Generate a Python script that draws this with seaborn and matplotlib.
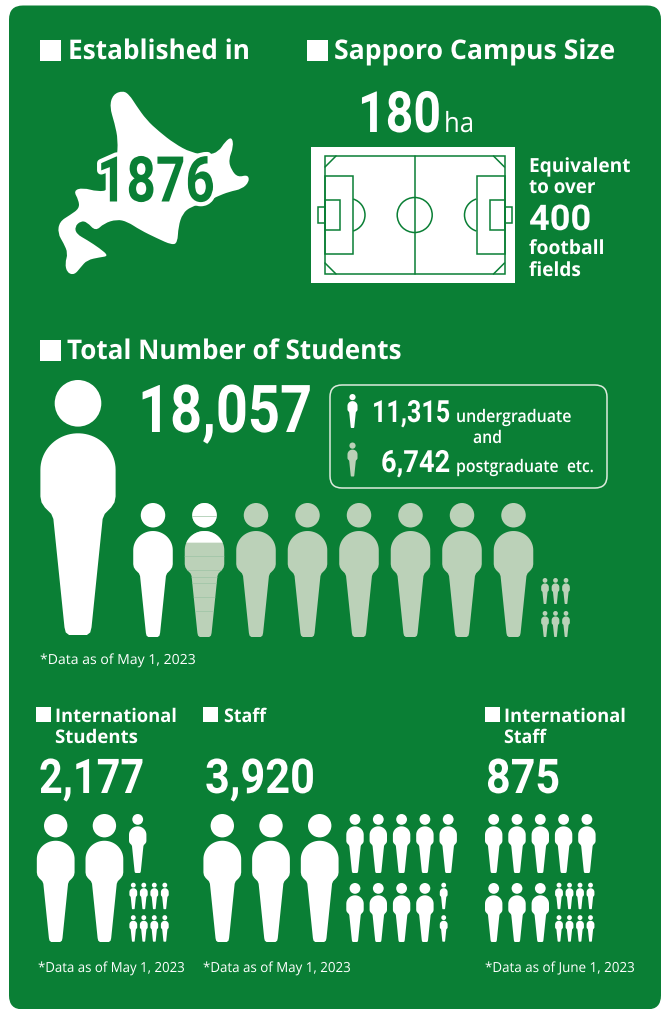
import numpy as np
import pandas as pd
import matplotlib
matplotlib.use("Agg")
import matplotlib.pyplot as plt
import matplotlib.patheffects as pe
from matplotlib.patches import FancyBboxPatch, Rectangle, Circle, Arc, PathPatch
from matplotlib.path import Path
from matplotlib.transforms import Affine2D
import seaborn as sns

# values shown on the chart
total_students = 18057
undergraduates = 11315
postgraduates = 6742
intl_students = 2177
staff = 3920
intl_staff = 875
established = 1876
campus_ha = 180
fields_equiv = 400
data_dates = ["May 1, 2023", "May 1, 2023", "May 1, 2023", "June 1, 2023"]

GREEN = "#0A7F35"
PALE = "#BBD1B8"
WHITE = "#FFFFFF"
HEAD = "Open Sans"
NUM = "Roboto"

sns.set_theme(style="white")


def person(clip=None):
    # unit-height pictogram centred on 0,0
    head = Path.circle((0, 0.5 - 0.0914), 0.0914)
    t = np.linspace(0, np.pi, 40)
    arc_x = 0.1475 * np.cos(t)
    arc_y = 0.148 + 0.143 * np.sin(t)
    right = [(0.1475, 0.043), (0.143, 0.02), (0.13, 0.0), (0.105, -0.025), (0.0966, -0.045),
             (0.053, -0.47), (0.048, -0.49), (0.035, -0.5)]
    right = np.array(right)
    left = right[::-1] * [-1, 1]
    body = np.vstack([right[::-1], np.c_[arc_x, arc_y], left[::-1]])
    if clip is not None:
        body = body[body[:, 1] >= 0.5 - clip]
    body = np.vstack([body, body[:1]])
    return Path.make_compound_path(head, Path(body, closed=True))


def grid(n, x0, dx, top, dy, cols, h):
    # icon centres, filled row by row
    col = np.arange(n) % cols
    row = np.arange(n) // cols
    return pd.DataFrame({"x": x0 + col * dx, "y": top + row * dy + h / 2, "h": h})


def digits(value):
    # one icon per thousand, hundred and ten, rounded to the nearest ten
    v = int(round(value, -1))
    return v // 1000, v // 100 % 10, v // 10 % 10


class Squeeze(pe.AbstractPathEffect):
    # squeezes glyphs sideways about one point, the fonts here are wider than the original
    def __init__(self, sx, xa, inner=None):
        super().__init__()
        self.sx, self.xa, self.inner = sx, xa, inner

    def draw_path(self, renderer, gc, tpath, affine, rgbFace=None):
        a = affine + Affine2D().translate(-self.xa, 0).scale(self.sx, 1).translate(self.xa, 0)
        if self.inner:
            for e in self.inner:
                e.draw_path(renderer, gc, tpath, a, rgbFace)
        else:
            renderer.draw_path(gc, tpath, a, rgbFace)


fig = plt.figure(figsize=(6.64, 10.09), dpi=100, facecolor="white")
ax = fig.add_axes([0, 0, 1, 1])
ax.set_xlim(0, 664)
ax.set_ylim(1009, 0)
ax.axis("off")
rend = fig.canvas.get_renderer()

ax.add_patch(FancyBboxPatch((9, 5.5), 652, 1004, boxstyle="round,pad=0,rounding_size=14", fc=GREEN, ec="none"))

# Hokkaido outline
hk = np.array([(290, 272), (305, 285), (320, 315), (345, 360), (375, 395), (410, 430), (450, 458), (490, 465),
               (515, 455), (530, 425), (546, 410), (550, 440), (538, 480), (545, 510), (560, 532), (584, 524),
               (587, 545), (570, 567), (540, 575), (510, 590), (480, 610), (450, 620), (430, 640), (420, 680),
               (418, 728), (405, 735), (370, 715), (330, 690), (300, 665), (275, 658), (245, 670), (225, 694),
               (205, 666), (190, 663), (176, 680), (180, 702), (205, 720), (235, 745), (256, 768), (235, 772),
               (205, 780), (190, 802), (175, 825), (158, 818), (153, 790), (160, 760), (150, 730), (136, 700),
               (140, 665), (165, 645), (187, 625), (185, 600), (173, 572), (195, 563), (230, 575), (258, 570),
               (275, 480), (278, 420), (270, 370), (258, 320), (266, 283)], dtype=float) / [2.355, 3]
mids = (hk + np.roll(hk, -1, axis=0)) / 2
verts = [mids[-1]]
codes = [Path.MOVETO]
for c, m in zip(hk, mids):
    verts += [c, m]
    codes += [Path.CURVE3, Path.CURVE3]
ax.add_patch(PathPatch(Path(np.array(verts), codes), fc=WHITE, ec="none"))

# football pitch
ax.add_patch(Rectangle((311, 147), 204, 136, fc=WHITE, ec="none"))
line = dict(fc="none", ec=GREEN, lw=1.1)
for x, y, w, h in [(325, 156, 179.5, 118), (325, 176, 28, 78), (476.5, 176, 28, 78), (325, 200, 15, 30),
                   (489.5, 200, 15, 30), (317.5, 207, 7.5, 16), (504.5, 207, 7.5, 16)]:
    ax.add_patch(Rectangle((x, y), w, h, **line))
ax.plot([414.7, 414.7], [156, 274], color=GREEN, lw=1.1)
ax.add_patch(Circle((414.7, 215), 17.5, **line))
ax.add_patch(Arc((348.3, 215), 33.4, 33.4, theta1=-73, theta2=73, ec=GREEN, lw=1.1))
ax.add_patch(Arc((481.2, 215), 33.4, 33.4, theta1=107, theta2=253, ec=GREEN, lw=1.1))
for cx, sx in [(325, 1), (504.5, -1)]:
    for cy, sy in [(156, 1), (274, -1)]:
        ax.plot([cx + sx * 11, cx], [cy, cy + sy * 11], color=GREEN, lw=1.1)


def label(x0, x1, y, s, size, weight="bold", family=HEAD, color=WHITE, inner=None, ha="left"):
    # text fitted to run from x0 to x1 in picture pixels
    xa = x0 if ha == "left" else x1
    t = ax.text(xa, y, s, fontsize=size, fontweight=weight, family=family, color=color, ha=ha, va="baseline")
    w = t.get_window_extent(rend).width
    t.set_path_effects([Squeeze((x1 - x0) / w, xa, inner)])
    return t


def square(x, y, s):
    ax.add_patch(Rectangle((x, y), s, s, fc=WHITE, ec="none"))


square(40, 39.5, 21)
square(307, 39.5, 21)
square(40, 339.5, 21)
square(36, 707, 15)
square(203, 707, 15)
square(485, 707, 15)

label(68, 250, 59, "Established in", 19.5)
label(334, 616, 59, "Sapporo Campus Size", 19.5)
label(67, 402, 359, "Total Number of Students", 19.5)
label(55, 177, 722, "International", 13.5)
label(55, 138, 743, "Students", 13.5)
label(224, 266, 722, "Staff", 13.5)
label(504, 626, 722, "International", 13.5)
label(504, 546, 743, "Staff", 13.5)

label(97, 215, 201.5, str(established), 45.5, family=NUM, color=GREEN,
      inner=[pe.Stroke(linewidth=6, foreground=WHITE), pe.Normal()])

label(358, 441, 132, str(campus_ha), 41, family=NUM, ha="right")
label(444, 474, 132, "ha", 20, weight="normal")
label(529, 631, 172, "Equivalent", 14)
label(529, 596, 193, "to over", 14)
label(529, 591, 230, str(fields_equiv), 25.5, family=NUM)
label(529, 605, 254, "football", 14)
label(529, 581, 276, "fields", 14)

label(138, 312, 432, f"{total_students:,}", 47.5, family=NUM)
label(372, 450, 422, f"{undergraduates:,}", 22, family=NUM)
label(456, 572, 422, "undergraduate", 12.5, weight=600)
label(473, 502, 443, "and", 12.5, weight=600)
label(381, 450, 472, f"{postgraduates:,}", 22, family=NUM)
label(456, 559, 472, "postgraduate", 12.5, weight=600)
label(567, 594, 472, "etc.", 12.5, weight=600)
ax.add_patch(FancyBboxPatch((330, 385), 277, 103, boxstyle="round,pad=0,rounding_size=12", fc="none", ec="#DDEBDD", lw=1.1))

label(39, 144, 793, f"{intl_students:,}", 34.5, family=NUM)
label(205, 315, 793, f"{staff:,}", 34.5, family=NUM)
label(486, 560, 793, f"{intl_staff:,}", 34.5, family=NUM)

for x0, x1, y, d in zip([40, 38, 203, 485], [196, 185, 351, 635], [664, 972, 972, 972], data_dates):
    label(x0, x1, y, "*Data as of " + d, 10, weight="normal")

# pictograms: white icons are undergraduates, pale ones the rest
th_s, hu_s, te_s = digits(total_students)
white_mid = (undergraduates - 10000) // 1000
partial = round((undergraduates % 1000) / 1000, 1)
stud_mid = grid(th_s % 10, 153, 51.5, 503, 0, 8, 134)
stud_big = grid(total_students // 10000, 78, 0, 380, 0, 1, 255)
stud_tiny = grid(te_s, 545, 10.5, 578, 33, 3, 26)

sets = [stud_big, stud_mid.iloc[:white_mid], stud_mid.iloc[white_mid:], stud_tiny]
kinds = ["white", "white", "pale", "pale"]

th, hu, te = digits(intl_students)
sets += [grid(th, 55.7, 48.7, 814, 0, 8, 128), grid(hu, 137.7, 0, 814, 0, 1, 59), grid(te, 133.3, 10.5, 882.7, 32.5, 4, 26.5)]
kinds += ["white"] * 3
th, hu, te = digits(staff)
sets += [grid(th, 222.3, 48.7, 814, 0, 8, 128), grid(hu, 355, 23.3, 814, 69, 5, 59), grid(te, 443.7, 0, 882.7, 32.5, 1, 26.5)]
kinds += ["white"] * 3
th, hu, te = digits(intl_staff)
sets += [grid(hu, 493.7, 23.3, 814, 69, 5, 59), grid(te, 559, 10.5, 882.7, 32.5, 4, 26.5)]
kinds += ["white"] * 2
# key icons in the box
sets += [grid(1, 352.5, 0, 394, 0, 1, 34), grid(1, 352.5, 0, 442.5, 0, 1, 34)]
kinds += ["white", "pale"]

icons = pd.concat([s.assign(kind=k) for s, k in zip(sets, kinds)], ignore_index=True)
icons["s"] = (icons["h"] * 0.72) ** 2
for kind, col in [("pale", PALE), ("white", WHITE)]:
    part = icons[icons["kind"] == kind]
    sns.scatterplot(data=part, x="x", y="y", s=part["s"].to_numpy(), marker=person(), color=col,
                    linewidth=0, edgecolor="none", legend=False, ax=ax)

# the icon that is only partly undergraduate
first_pale = stud_mid.iloc[[white_mid]]
sns.scatterplot(data=first_pale, x="x", y="y", s=(first_pale["h"].to_numpy() * 0.72) ** 2, marker=person(clip=partial),
                color=WHITE, linewidth=0, edgecolor="none", legend=False, ax=ax)

# faint seams across that icon in the original
px, py, ph = first_pale[["x", "y", "h"]].iloc[0]
seams = ax.hlines([516, 556, 570, 577, 583, 597, 611], px - 22, px + 22, color="#9CC4A4", lw=0.5)
seams.set_clip_path(person(), Affine2D().scale(ph, -ph).translate(px, py) + ax.transData)

ax.set_xlim(0, 664)
ax.set_ylim(1009, 0)
ax.set_xlabel("")
ax.set_ylabel("")

fig.savefig("out.png", dpi=100, facecolor="white")
